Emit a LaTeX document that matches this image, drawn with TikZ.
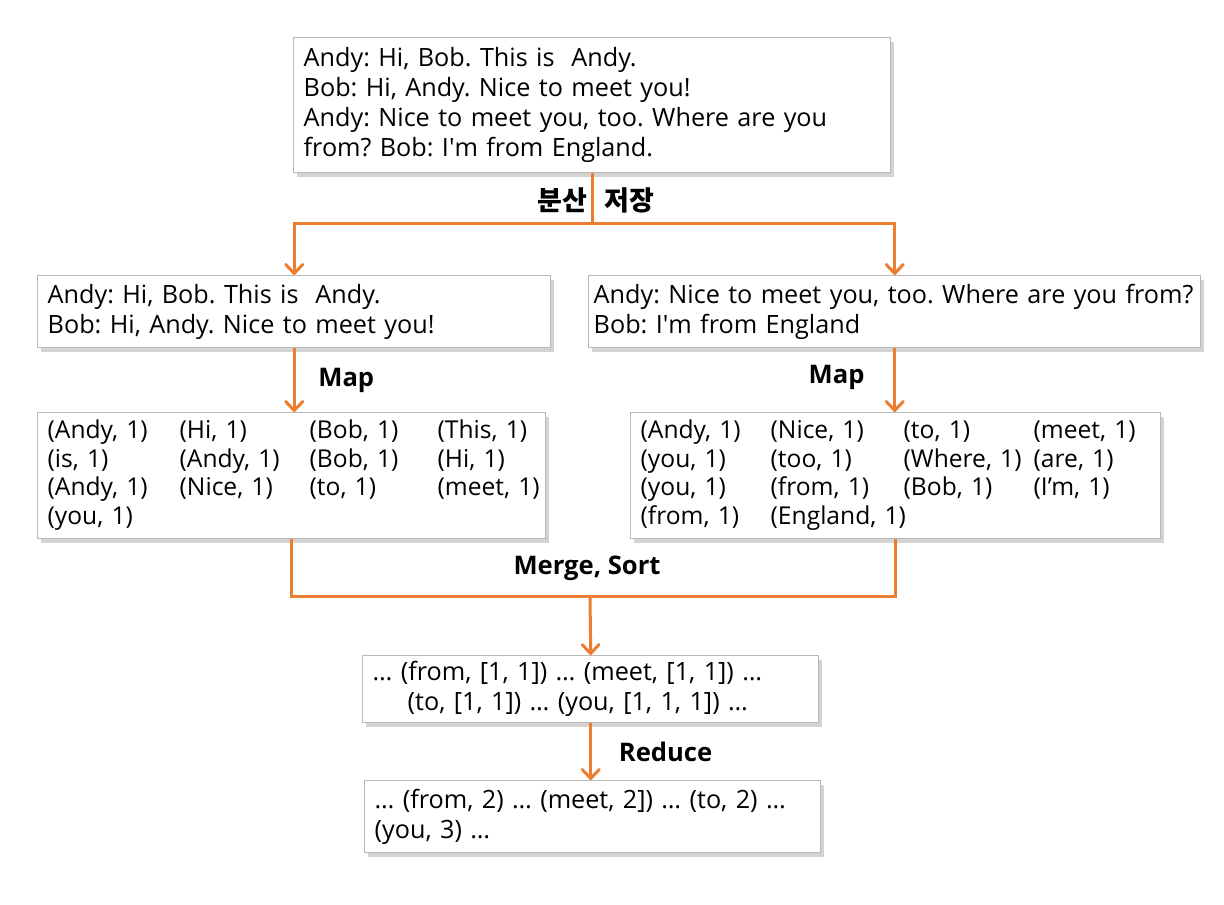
\documentclass[tikz,border=0pt]{standalone}
\usepackage{fontspec}
\usepackage{array}
\setmainfont{Open Sans}
\newfontfamily\krfont{Noto Sans CJK KR}
\usetikzlibrary{arrows.meta,shadows}
\definecolor{flowc}{RGB}{237,125,49}
\frenchspacing

\begin{document}
\begin{tikzpicture}[x=0.5pt,y=-0.5pt,
        box/.style={draw=black!28,line width=0.7pt,fill=white,
          drop shadow={shadow xshift=1.5pt,shadow yshift=-2pt,opacity=.35},
          anchor=north west,align=left,inner xsep=5pt,inner ysep=0pt,
          font=\fontsize{12.6}{15}\selectfont},
        pairs/.style={box,font=\fontsize{12.3}{14.25}\selectfont},
        flow/.style={draw=flowc,line width=1.5pt},
        arr/.style={flow,-{Straight Barb[length=4.5pt,width=8.5pt,round]}},
        lbl/.style={font=\fontsize{12.8}{15}\selectfont\bfseries}]
  \useasboundingbox (0,0) rectangle (1224,904);

  \node[box,text width=288.5pt,minimum height=67.5pt] (src) at (293,37)
    {Andy: Hi, Bob. This is\ \ Andy.\\
     Bob: Hi, Andy. Nice to meet you!\\
     Andy: Nice to meet you, too. Where are you\\
     from? Bob: I\textquotesingle m from England.};

  \node[box,text width=246.5pt,minimum height=36pt] (dA) at (37,275)
    {Andy: Hi, Bob. This is\ \ Andy.\\
     Bob: Hi, Andy. Nice to meet you!};
  \node[box,inner xsep=2.5pt,text width=301pt,minimum height=36pt] (dB) at (588,275)
    {Andy: Nice to meet you, too. Where are you from?\\
     Bob: I\textquotesingle m from England};

  \node[pairs,text width=244pt,minimum height=63pt] (mA) at (37,412)
    {\begin{tabular}{@{}w{l}{66pt}@{}w{l}{65pt}@{}w{l}{64pt}@{}l@{}}
     (Andy, 1) & (Hi, 1)    & (Bob, 1) & (This, 1)\\
     (is, 1)   & (Andy, 1)  & (Bob, 1) & (Hi, 1)\\
     (Andy, 1) & (Nice, 1)  & (to, 1)  & (meet, 1)\\
     (you, 1)  &            &          &
     \end{tabular}};
  \node[pairs,text width=255pt,minimum height=63pt] (mB) at (630,412)
    {\begin{tabular}{@{}w{l}{65pt}@{}w{l}{66.5pt}@{}w{l}{65pt}@{}l@{}}
     (Andy, 1) & (Nice, 1)    & (to, 1)    & (meet, 1)\\
     (you, 1)  & (too, 1)     & (Where, 1) & (are, 1)\\
     (you, 1)  & (from, 1)    & (Bob, 1)   & (I’m, 1)\\
     (from, 1) & (England, 1) &            &
     \end{tabular}};

  \node[box,text width=218pt,minimum height=33.5pt] (grp) at (362,655)
    {… (from, [1, 1]) … (meet, [1, 1]) …\\
     \hspace*{17.5pt}(to, [1, 1]) … (you, [1, 1, 1]) …};
  \node[box,text width=218pt,minimum height=36pt] (red) at (364,780)
    {… (from, 2) … (meet, 2]) … (to, 2) …\\
     (you, 3) …};

  % split into two blocks
  \path (src.south) ++(0,50) coordinate (split);
  \draw[flow] (src.south) -- (split);
  \draw[arr] (split) -| (dA.north);
  \draw[arr] (split) -| (dB.north);
  \node[lbl,font=\fontsize{13.5}{15}\selectfont\krfont\bfseries] (store) at (596,200)
    {분산\hspace{9pt}저장};

  % map
  \draw[arr] (dA.south) -- node[lbl,right=8pt] (mapA) {Map} (dA.south |- mA.north);
  \draw[arr] (dB.south) -- node[lbl,left=11pt,yshift=1.5pt] (mapB) {Map} (dB.south |- mB.north);

  % merge and reduce
  \coordinate (merge) at (590,596);
  \draw[flow] (mA.south) |- (merge) -| (mB.south);
  \draw[arr] (merge) -- (grp.north);
  \node[lbl] (sort) at (587,568) {Merge, Sort};
  \draw[arr] (grp.south) -- node[lbl,right=10pt] (reduce) {Reduce} (grp.south |- red.north);

\end{tikzpicture}
\end{document}
